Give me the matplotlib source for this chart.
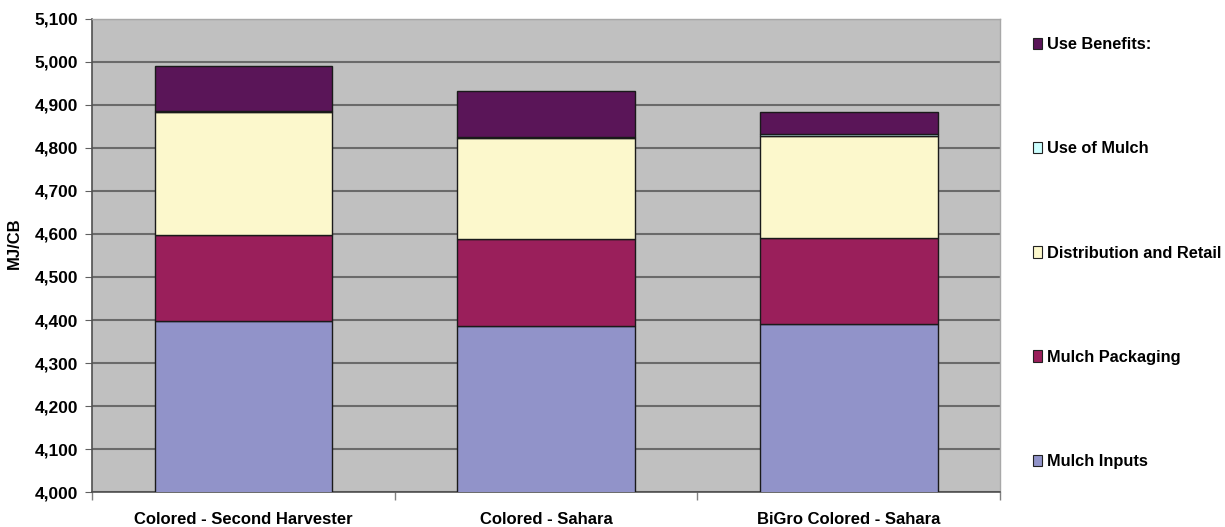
import matplotlib
matplotlib.use("Agg")
import matplotlib.pyplot as plt
import numpy as np
from matplotlib.patches import Patch
from matplotlib.ticker import FuncFormatter, MultipleLocator, FixedLocator

# Energy by life-cycle stage (MJ per cubic bag)
categories = ["Colored - Second Harvester", "Colored - Sahara", "BiGro Colored - Sahara"]
series_names = ["Mulch Inputs", "Mulch Packaging", "Distribution and Retail",
                "Use of Mulch", "Use Benefits:"]
mulch_inputs = [4398, 4386, 4391]
mulch_packaging = [200, 202, 200]
distribution_retail = [284, 235, 237]
use_of_mulch = [3, 3, 3]
use_benefits = [106, 106, 53]
series_colors = ["#9193C9", "#9A1F5B", "#FCF8CC", "#CCFFFF", "#5A1558"]

plt.rcParams["font.family"] = ["Liberation Sans", "DejaVu Sans"]
plt.rcParams["font.weight"] = "bold"

fig = plt.figure(figsize=(12.25, 5.27), dpi=100)
ax = fig.add_axes([92.3 / 1225, 34.7 / 527, (1000 - 92.3) / 1225, (492.3 - 18.6) / 527])
ax.set_facecolor("#C0C0C0")

x = np.arange(len(categories))
stack = [mulch_inputs, mulch_packaging, distribution_retail, use_of_mulch, use_benefits]
bottom = np.zeros(len(categories))
handles = []
for name, vals, col in zip(series_names, stack, series_colors):
    ax.bar(x, vals, width=0.587, bottom=bottom, color=col, edgecolor="#1a1a1a",
           linewidth=1.0, zorder=3)
    bottom += np.array(vals)
    handles.append(Patch(facecolor=col, edgecolor="#222222", linewidth=0.8, label=name))

ax.set_ylim(4000, 5100)
ax.set_xlim(-0.5, 2.5)
ax.yaxis.set_major_locator(MultipleLocator(100))
ax.yaxis.set_major_formatter(FuncFormatter(lambda v, p: f"{int(v):,}"))
ax.grid(axis="y", color="#6A6A6A", linewidth=1.5, zorder=1)
ax.set_axisbelow(True)

ax.set_xticks(x)
ax.set_xticklabels(categories, fontsize=12, fontweight="bold")
ax.tick_params(axis="x", which="major", length=0, pad=14)
ax.xaxis.set_minor_locator(FixedLocator([-0.5, 0.5, 1.5, 2.5]))
ax.tick_params(axis="x", which="minor", length=6, color="#808080", width=1)
ax.tick_params(axis="y", length=5, color="#606060", labelsize=12.5, pad=5)
for lab in ax.get_yticklabels():
    lab.set_fontweight("bold")

for side in ["left", "bottom"]:
    ax.spines[side].set_color("#505050")
    ax.spines[side].set_linewidth(1.2)
for side in ["top", "right"]:
    ax.spines[side].set_color("#A8A8A8")
    ax.spines[side].set_linewidth(1.0)

ax.set_ylabel("MJ/CB", fontsize=12, fontweight="bold")
ax.yaxis.set_label_coords(-0.0775, 0.526)

leg = fig.legend(handles=handles[::-1], loc="upper left", bbox_to_anchor=(1033 / 1225, 1 - 37 / 527),
                 frameon=False, fontsize=11.8, handlelength=0.55, handleheight=0.7,
                 handletextpad=0.3, labelspacing=5.45, borderpad=0, borderaxespad=0)
for t in leg.get_texts():
    t.set_fontweight("bold")

fig.savefig("out.png", dpi=100, facecolor="white")
